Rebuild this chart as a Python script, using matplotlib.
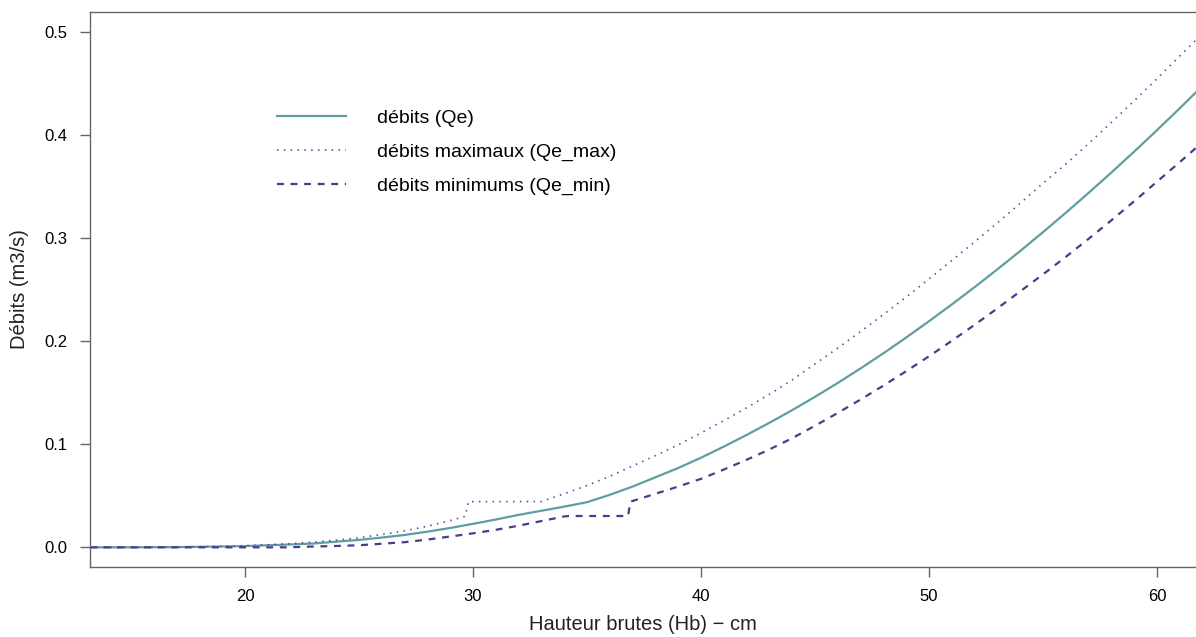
import numpy as np
import matplotlib
matplotlib.use('Agg')
import matplotlib.pyplot as plt

plt.rcParams['font.family'] = ['Liberation Sans', 'DejaVu Sans']

# hauteur brute (cm) et debits (m3/s)
h_qe = [13.2, 15, 17, 19, 20, 21, 22, 23, 24, 25, 26, 27, 28, 29, 30, 31, 32, 33,
        34, 35, 36, 37, 38, 39, 40, 41, 42, 43, 44, 45, 46, 47, 48, 49, 50,
        51, 52, 53, 54, 55, 56, 57, 58, 59, 60, 61, 61.8]
qe = [0.0, 0.0, 0.0002, 0.0008, 0.0012, 0.002, 0.0028, 0.0037, 0.0055, 0.0072,
      0.0095, 0.012, 0.0152, 0.0188, 0.0228, 0.027, 0.0315, 0.0355, 0.0395,
      0.0438, 0.051, 0.059, 0.068, 0.077, 0.087, 0.0978, 0.1091, 0.1209, 0.1332,
      0.1461, 0.1596, 0.1737, 0.1884, 0.2037, 0.2195, 0.2358, 0.2526, 0.2699,
      0.2877, 0.306, 0.3248, 0.3441, 0.3639, 0.3842, 0.405, 0.4263, 0.4437]

h_max = [13.2, 15, 17, 19, 20, 21, 22, 23, 24, 25, 26, 27, 28, 29, 29.65, 29.8,
         33, 34, 35, 36, 37, 38, 39, 40, 41, 42, 43, 44, 45, 46, 47, 48, 49, 50,
         51, 52, 53, 54, 55, 56, 57, 58, 59, 60, 61, 61.8]
qe_max = [0.0, 0.0, 0.0003, 0.0010, 0.0016, 0.0025, 0.0035, 0.005, 0.007, 0.0093,
          0.0125, 0.016, 0.0205, 0.026, 0.030, 0.0443, 0.0445, 0.052, 0.060, 0.069,
          0.079, 0.089, 0.0995, 0.111, 0.123, 0.1355, 0.1485, 0.1625, 0.178,
          0.1935, 0.2095, 0.226, 0.243, 0.2605, 0.2785, 0.2965, 0.315, 0.334,
          0.3535, 0.372, 0.392, 0.4125, 0.4335, 0.455, 0.477, 0.4945]

h_min = [13.2, 20, 21.8, 23, 24, 25, 26, 27, 28, 29, 30, 31, 32, 33, 34, 34.2,
         36.8, 36.9, 38, 39, 40, 41, 42, 43, 44, 45, 46, 47, 48, 49, 50,
         51, 52, 53, 54, 55, 56, 57, 58, 59, 60, 61, 61.8]
qe_min = [0.0, 0.0, 0.0, 0.0008, 0.0013, 0.002, 0.0035, 0.005, 0.0075, 0.0105,
          0.0136, 0.017, 0.021, 0.0255, 0.030, 0.0304, 0.0304, 0.0443, 0.052,
          0.059, 0.0665, 0.0755, 0.085, 0.095, 0.106, 0.118, 0.1305, 0.1435,
          0.157, 0.171, 0.1855, 0.2005, 0.216, 0.232, 0.2485, 0.265, 0.282,
          0.2995, 0.3175, 0.336, 0.355, 0.374, 0.3895]

labels = ['débits (Qe)', 'débits maximaux (Qe_max)', 'débits minimums (Qe_min)']

fig = plt.figure(figsize=(11.96, 6.37), dpi=100)
ax = fig.add_axes([90/1196, 1 - 567/637, 1 - 90/1196, (567 - 12)/637])

ax.plot(h_qe, qe, color='#5F9EA0', lw=1.6, label=labels[0])
ax.plot(h_max, qe_max, color='#574a9e', lw=1.2, dashes=(0.9, 3.2), label=labels[1])
ax.plot(h_min, qe_min, color='#483D8B', lw=1.6, dashes=(3.1, 3.0), label=labels[2])

ax.set_xlim(13.2, 61.71)
ax.set_ylim(-0.0191, 0.5197)
ax.set_xticks([20, 30, 40, 50, 60])
ax.set_yticks([0.0, 0.1, 0.2, 0.3, 0.4, 0.5])
ax.set_yticklabels(['0.0', '0.1', '0.2', '0.3', '0.4', '0.5'])

for s in ['left', 'top', 'bottom']:
    ax.spines[s].set_color('#666666')
    ax.spines[s].set_linewidth(1.0)
ax.spines['right'].set_visible(False)
ax.tick_params(direction='out', length=7, width=1.0, color='#666666',
               labelsize=12, labelcolor='black', pad=9)

ax.set_xlabel('Hauteur brutes (Hb) \u2212 cm', fontsize=14.5, color='#222222', labelpad=8)
ax.set_ylabel('Débits (m3/s)', fontsize=14.5, color='#222222', labelpad=11)

ax.legend(loc='upper left', bbox_to_anchor=(277/1196, 1 - 109/637),
          bbox_transform=fig.transFigure, frameon=False, fontsize=14,
          handlelength=3.55, handletextpad=1.6, labelspacing=0.85,
          borderpad=0, borderaxespad=0)

fig.savefig('out.png', dpi=100, facecolor='w')
